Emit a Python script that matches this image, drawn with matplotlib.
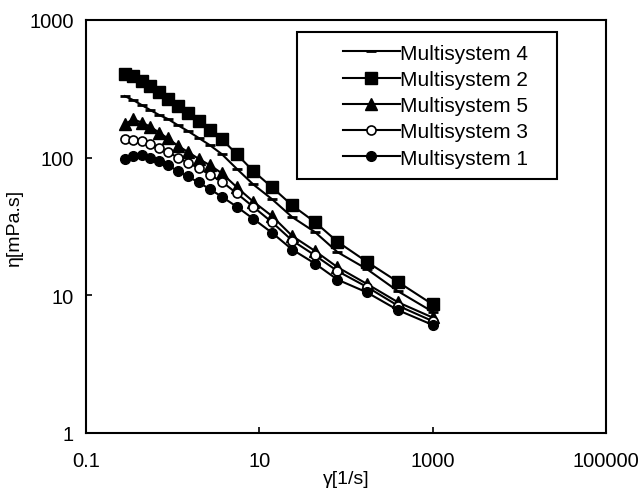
import matplotlib
matplotlib.use('Agg')
import matplotlib.pyplot as plt
from matplotlib.patches import Rectangle

plt.rcParams['font.family'] = ['Liberation Sans', 'DejaVu Sans']

# shear rate (1/s), shared by all series
shear_rate = [0.28, 0.35, 0.44, 0.55, 0.7, 0.88, 1.15, 1.5, 2.0, 2.7, 3.7, 5.5,
              8.5, 14, 24, 44, 80, 175, 400, 1000]

# viscosity (mPa.s)
ms4 = [280, 262, 241, 222, 204, 191, 172, 156, 139, 123, 106, 83,
       64, 50, 37, 28.8, 20.6, 15.5, 10.7, 7.6]
ms2 = [405, 390, 360, 330, 300, 268, 238, 212, 184, 160, 136, 106,
       80, 61, 45, 34, 24.5, 17.5, 12.5, 8.6]
ms5 = [175, 190, 180, 168, 152, 138, 122, 110, 98, 88, 77, 61,
       48, 37.7, 27, 21, 16, 12.1, 8.9, 6.9]
ms3 = [136, 135, 132, 126, 118, 110, 100, 92, 84, 75, 67, 55,
       44, 34, 25, 19.5, 15, 11.5, 8.4, 6.5]
ms1 = [97, 103, 104, 100, 95, 88, 80, 73, 66, 59, 52, 44,
       36, 28.5, 21.5, 17, 13, 10.5, 7.8, 6.1]

labels = ['Multisystem 4', 'Multisystem 2', 'Multisystem 5', 'Multisystem 3', 'Multisystem 1']

fig = plt.figure(figsize=(6.39, 5.02), dpi=100)
ax = fig.add_axes([0.1346, 0.1355, 0.8134, 0.8227])

ax.plot(shear_rate, ms4, color='black', lw=1.5, marker='_', ms=7, mew=2, label=labels[0])
ax.plot(shear_rate, ms2, color='black', lw=1.5, marker='s', ms=8.5, label=labels[1])
ax.plot(shear_rate, ms5, color='black', lw=1.5, marker='^', ms=9, label=labels[2])
ax.plot(shear_rate, ms3, color='black', lw=1.5, marker='o', ms=6.5, mfc='white', mew=1.2, label=labels[3])
ax.plot(shear_rate, ms1, color='black', lw=1.5, marker='o', ms=7, label=labels[4])

ax.set_xscale('log')
ax.set_yscale('log')
ax.set_xlim(0.1, 100000)
ax.set_ylim(1, 1000)
ax.set_xticks([0.1, 10, 1000, 100000])
ax.set_xticklabels(['0.1', '10', '1000', '100000'])
ax.set_yticks([1, 10, 100, 1000])
ax.set_yticklabels(['1', '10', '100', '1000'])
ax.minorticks_off()
ax.tick_params(direction='in', length=4, width=1.2, labelsize=14.5)
ax.tick_params(axis='x', pad=13)
ax.tick_params(axis='y', pad=9)
for sp in ax.spines.values():
    sp.set_linewidth(1.5)

ax.set_xlabel('γ[1/s]', fontsize=14, labelpad=0)
ax.set_ylabel('η[mPa.s]', fontsize=14, labelpad=4)

# legend box with wide padding, as in the original
ax.add_patch(Rectangle((0.406, 0.615), 0.5, 0.356, transform=ax.transAxes,
                       fill=True, facecolor='white', edgecolor='black', lw=1.5, zorder=4))
leg = ax.legend(loc='upper left', bbox_to_anchor=(0.494, 0.943), fontsize=15,
                frameon=False, handlelength=2.75, handletextpad=0.0,
                labelspacing=0.35, borderpad=0, borderaxespad=0)
leg.set_zorder(5)

fig.savefig('out.png', dpi=100)
